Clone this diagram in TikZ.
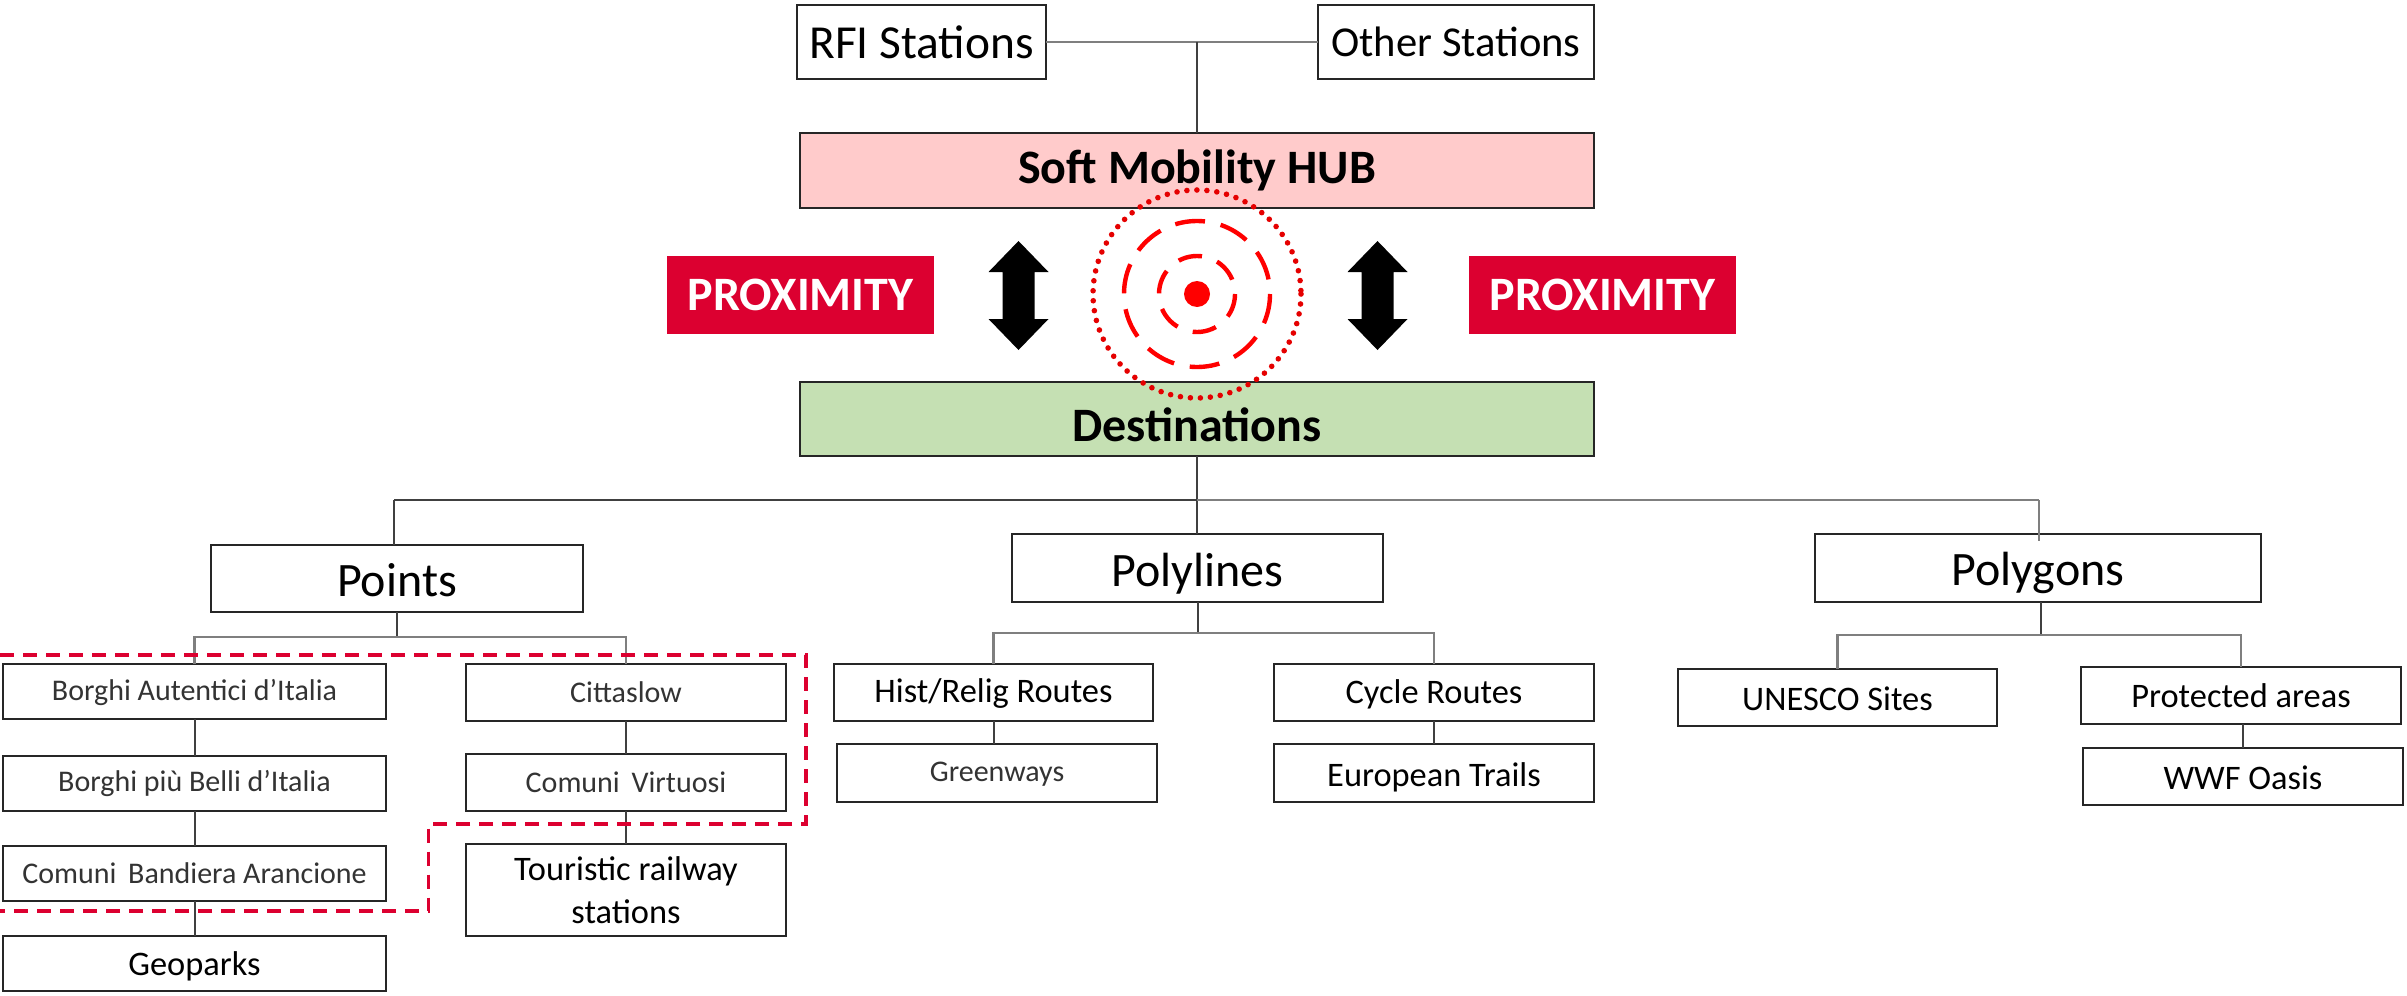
\documentclass[tikz,border=0pt]{standalone}
\usepackage{fontspec}
\setmainfont{Carlito}
\usetikzlibrary{calc}
\definecolor{crim}{HTML}{DC0030}
\definecolor{hubfill}{HTML}{FFCBCB}
\definecolor{destfill}{HTML}{C5E0B3}
\definecolor{glink}{HTML}{7F7F7F}
\newcommand{\fs}[1]{\fontsize{#1}{#1}\selectfont}
\newcommand{\dn}[2]{\raisebox{-#1}[\height][\depth]{#2}}
\newcommand{\bx}[7][]{%
 \node[boxn,#1,minimum width={(#5-#3)*0.5pt},minimum height={(#6-#4)*0.5pt}] (#2) at ({(#3+#5)/2},{(#4+#6)/2}) {#7};}
\tikzset{
 boxn/.style={draw=black!85,line width=1.2pt,fill=white,inner sep=0pt,outer sep=0pt,align=center,text=black},
 big/.style={font=\fs{24}},
 mid/.style={font=\fs{17.2}},
 sml/.style={font=\fs{15},text=black!80},
 boldbox/.style={font=\fs{24}\bfseries},
 prox/.style={draw=none,fill=crim,text=white,font=\fs{24}\bfseries},
 blink/.style={draw=black!75,line width=1pt},
 glinkst/.style={draw=glink,line width=1.1pt},
 dashred/.style={draw=crim,line width=1.6pt,dash pattern=on 7pt off 4.5pt},
 ringd/.style={draw=red,line width=2.2pt},
 biarrow/.style={fill=black,draw=none}
}
\begin{document}
\begin{tikzpicture}[x=0.5pt,y=-0.5pt]
\useasboundingbox (0,0) rectangle (2407,995);
\fill[white] (0,0) rectangle (2407,995);
% boxes
\bx[font=\fs{23.7}]{rfi}{797}{5}{1046}{79}{RFI Stations}
\bx[font=\fs{21.3}]{oth}{1318}{5}{1594}{79}{Other Stations}
\bx[boldbox,fill=hubfill]{hub}{800}{133}{1594}{208}{Soft Mobility HUB}
\bx[boldbox,fill=destfill]{dest}{800}{382}{1594}{456}{\dn{3pt}{Destinations}}
\bx[prox]{pl}{667}{256}{934}{334}{PROXIMITY}
\bx[prox]{pr}{1469}{256}{1736}{334}{PROXIMITY}
\bx[big]{pts}{211}{545}{583}{612}{\dn{.7pt}{Points}}
\bx[big]{lin}{1012}{534}{1383}{602}{\dn{3pt}{Polylines}}
\bx[big]{gon}{1815}{534}{2261}{602}{\dn{2.5pt}{Polygons}}
\bx[sml]{a1}{3}{664}{386}{719}{\dn{.5pt}{Borghi Autentici d’Italia}}
\bx[sml]{a2}{3}{756}{386}{811}{Borghi più Belli d’Italia}
\bx[sml]{a3}{3}{846}{386}{901}{Comuni\,\ Bandiera Arancione}
\bx[mid]{a4}{3}{936}{386}{991}{\dn{1.5pt}{Geoparks}}
\bx[sml]{b1}{466}{664}{786}{721}{Cittaslow}
\bx[sml]{b2}{466}{754}{786}{811}{Comuni\ \,Virtuosi}
\bx[mid]{b3}{466}{844}{786}{936}{Touristic railway\\[4pt]stations}
\bx[mid]{c1}{834}{664}{1153}{721}{\dn{.7pt}{Hist/Relig Routes}}
\bx[sml]{c2}{837}{744}{1157}{802}{\dn{.5pt}{Greenways}}
\bx[mid]{d1}{1274}{664}{1594}{721}{\dn{1pt}{Cycle Routes}}
\bx[mid]{d2}{1274}{744}{1594}{802}{\dn{2pt}{European Trails}}
\bx[mid]{e1}{1678}{669}{1997}{726}{\dn{.5pt}{UNESCO Sites}}
\bx[mid]{f1}{2081}{667}{2401}{724}{Protected areas}
\bx[mid]{f2}{2083}{748}{2403}{805}{\dn{.5pt}{WWF Oasis}}
% junctions
\coordinate (jtop) at (hub.north |- rfi.east);
\coordinate (jmain) at (1197,500);
\coordinate (jpts) at (394,500);
\coordinate (jpgn) at (2039,500);
\coordinate (gtop) at (2039,541);
\coordinate (jp) at ($(pts.south)+(0,25)$);
\coordinate (jl) at ($(lin.south)+(0,31)$);
\coordinate (jg) at ($(gon.south)+(3,33)$);
% connectors
\draw[glinkst] (rfi.east) -- (oth.west);
\draw[blink] (jtop) -- (hub.north);
\draw[blink] (dest.south) -- (jmain) -- (jmain |- lin.north);
\draw[draw=black!75,line width=1.1pt] (jpts) -- (jmain);
\draw[glinkst] (jmain) -- (jpgn);
\draw[blink] (jpts) -- (jpts |- pts.north);
\draw[glinkst] (jpgn) -- (gtop);
\draw[blink] (pts.south) -- (jp);
\draw[glinkst] (a1.north) |- (jp) -| (b1.north);
\draw[blink] (lin.south) -- (jl);
\draw[glinkst] (c1.north) |- (jl) -| (d1.north);
\draw[blink] (jg |- gon.south) -- (jg);
\draw[glinkst] (e1.north) |- (jg) -| (f1.north);
\draw[blink] (a1) -- (a2);
\draw[blink] (a2) -- (a3);
\draw[blink] (a3) -- (a4);
\draw[blink] (b1) -- (b2);
\draw[blink] (b2) -- (b3);
\draw[blink] (c1.south) -- (c1.south |- c2.north);
\draw[blink] (d1) -- (d2);
\draw[blink] (f2.north |- f1.south) -- (f2.north);
% dashed outline
\draw[dashred] (0,655) -- (806,655) -- (806,824) -- (428.5,824) -- (428.5,911) -- (0,911);
% double arrows
\foreach \ax in {1018.5,1377.5}{
 \fill[biarrow] (\ax,241) -- (\ax+30,272) -- (\ax+16,272) -- (\ax+16,319) -- (\ax+30,319) -- (\ax,350) -- (\ax-30,319) -- (\ax-16,319) -- (\ax-16,272) -- (\ax-30,272) -- cycle;
}
% target rings
\coordinate (ctr) at (1197,294);
\draw[draw=red!90!black,line width=2.8pt,line cap=round,dash pattern=on 0pt off 5pt] (ctr) circle[radius=104];
\draw[ringd,dash pattern=on 15pt off 8pt] (ctr) circle[radius=73];
\draw[ringd,dash pattern=on 12pt off 8pt] (ctr) circle[radius=38];
\fill[red] (ctr) circle[radius=13];
\end{tikzpicture}
\end{document}
